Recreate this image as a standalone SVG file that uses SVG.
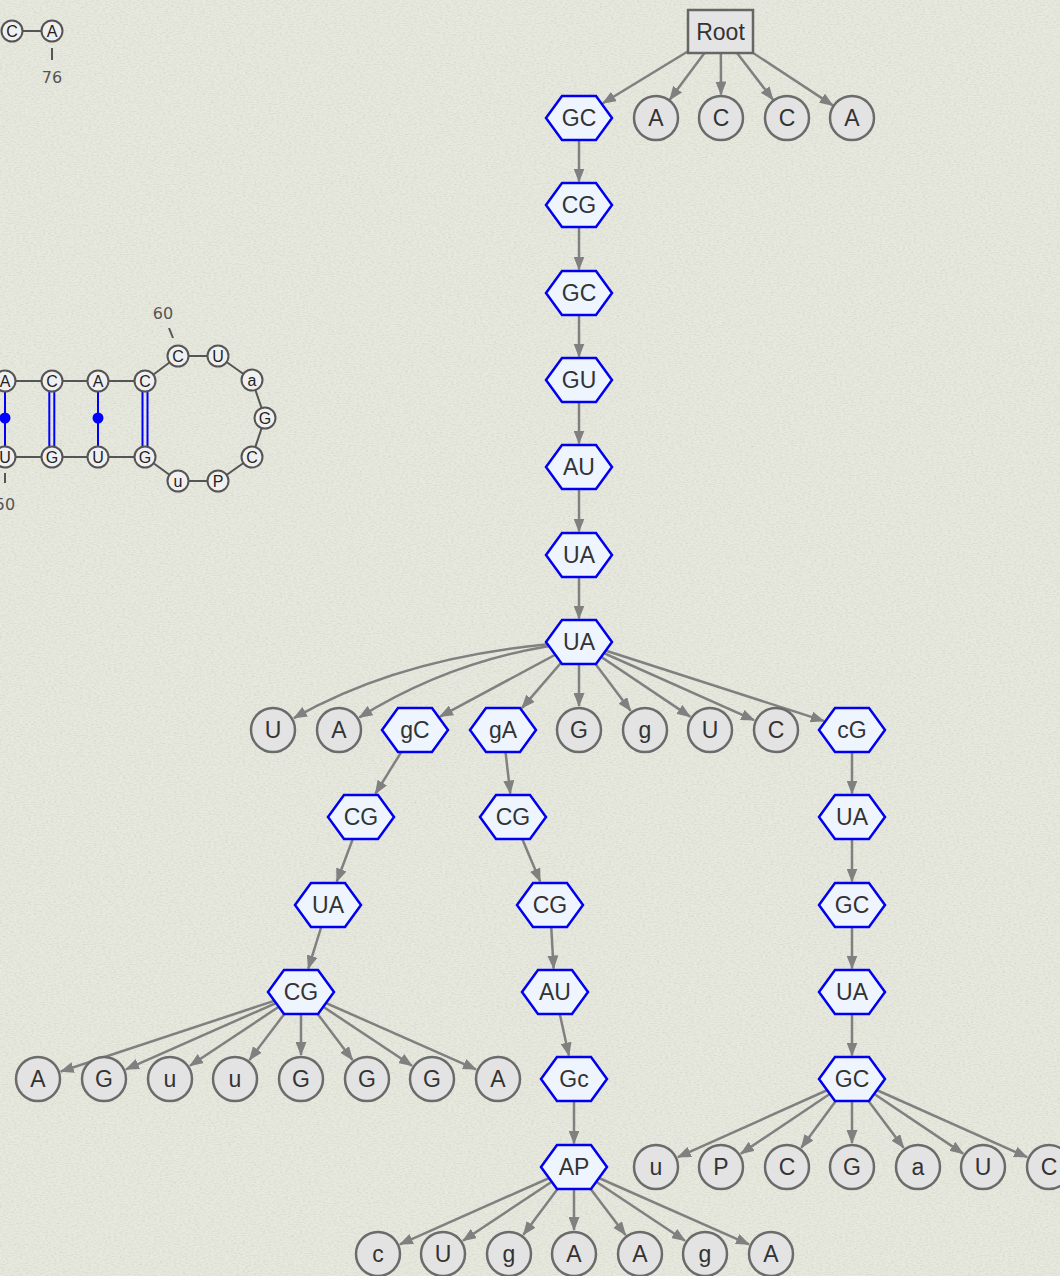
<svg xmlns="http://www.w3.org/2000/svg" xmlns:xlink="http://www.w3.org/1999/xlink" width="1060" height="1276" viewBox="0 0 1060 1276">
<style>
.bg{fill:#e8e9de}
.hx{fill:#eef5ff;stroke:#0000ee;stroke-width:2.5}
.lf{fill:#e3e3e3;stroke:#6b6b6b;stroke-width:2.5}
.rt{fill:#e4e4e4;stroke:#666;stroke-width:2.5}
.t{font-family:"Liberation Sans",Arial,sans-serif;font-size:23px;fill:#333;text-anchor:middle}
.e{fill:none;stroke:#808080;stroke-width:2.5;marker-end:url(#ah)}
.bb{stroke:#555;stroke-width:2;fill:none}
.nt{fill:#f0f0f0;stroke:#555;stroke-width:2}
.st{font-family:"Liberation Sans",Arial,sans-serif;font-size:16px;fill:#222;text-anchor:middle}
.num{font-family:"DejaVu Sans",sans-serif;font-size:16px;fill:#555;text-anchor:middle}
.bp{stroke:#0000ff;stroke-width:2;fill:none}
</style>
<defs>
<polygon id="hex" points="-33,0 -17,-22 17,-22 33,0 17,22 -17,22"/>
<marker id="ah" markerUnits="userSpaceOnUse" markerWidth="14" markerHeight="11" refX="13" refY="5.5" orient="auto">
<path d="M0,0 L14,5.5 L0,11 z" fill="#808080"/>
</marker>
<filter id="paper" x="0" y="0" width="100%" height="100%">
<feTurbulence type="fractalNoise" baseFrequency="0.35 0.9" numOctaves="3" seed="7"/>
<feColorMatrix type="matrix" values="0 0 0 0 0.45  0 0 0 0 0.47  0 0 0 0 0.40  0 0 0 0.6 -0.24"/>
</filter>
</defs>
<rect class="bg" x="0" y="0" width="1060" height="1276"/>
<rect x="0" y="0" width="1060" height="1276" filter="url(#paper)" fill="#000"/>

<g id="structure">
<g class="bb">
<line x1="12" y1="31" x2="52" y2="31"/>
<line x1="52" y1="48" x2="52" y2="60"/>
<line x1="5" y1="381" x2="145" y2="381"/>
<line x1="145" y1="381" x2="178" y2="356"/>
<line x1="178" y1="356" x2="218" y2="356"/>
<line x1="218" y1="356" x2="252" y2="380"/>
<line x1="252" y1="380" x2="265" y2="418"/>
<line x1="265" y1="418" x2="252" y2="457"/>
<line x1="252" y1="457" x2="218" y2="481"/>
<line x1="218" y1="481" x2="178" y2="481"/>
<line x1="178" y1="481" x2="145" y2="457"/>
<line x1="5" y1="457" x2="145" y2="457"/>
<line x1="5" y1="473" x2="5" y2="483"/>
<line x1="169" y1="328" x2="173" y2="338"/>
</g>
<g class="bp">
<line x1="5" y1="381" x2="5" y2="457"/>
<line x1="98" y1="381" x2="98" y2="457"/>
<line x1="49.3" y1="381" x2="49.3" y2="457"/>
<line x1="54.3" y1="381" x2="54.3" y2="457"/>
<line x1="142.5" y1="381" x2="142.5" y2="457"/>
<line x1="147.5" y1="381" x2="147.5" y2="457"/>
</g>
<circle cx="5" cy="418" r="5.5" fill="#0000ff"/>
<circle cx="98" cy="418" r="5.5" fill="#0000ff"/>
<g id="nt-c75"><circle class="nt" cx="12" cy="31" r="10.5"/><text class="st" x="12" y="37">C</text></g>
<g id="nt-a76"><circle class="nt" cx="52" cy="31" r="10.5"/><text class="st" x="52" y="37">A</text></g>
<g id="nt-a1"><circle class="nt" cx="5" cy="381" r="10.5"/><text class="st" x="5" y="387">A</text></g>
<g id="nt-c1"><circle class="nt" cx="52" cy="381" r="10.5"/><text class="st" x="52" y="387">C</text></g>
<g id="nt-a2"><circle class="nt" cx="98" cy="381" r="10.5"/><text class="st" x="98" y="387">A</text></g>
<g id="nt-c2"><circle class="nt" cx="145" cy="381" r="10.5"/><text class="st" x="145" y="387">C</text></g>
<g id="nt-c3"><circle class="nt" cx="178" cy="356" r="10.5"/><text class="st" x="178" y="362">C</text></g>
<g id="nt-u1"><circle class="nt" cx="218" cy="356" r="10.5"/><text class="st" x="218" y="362">U</text></g>
<g id="nt-a3"><circle class="nt" cx="252" cy="380" r="10.5"/><text class="st" x="252" y="386">a</text></g>
<g id="nt-g1"><circle class="nt" cx="265" cy="418" r="10.5"/><text class="st" x="265" y="424">G</text></g>
<g id="nt-c4"><circle class="nt" cx="252" cy="457" r="10.5"/><text class="st" x="252" y="463">C</text></g>
<g id="nt-p1"><circle class="nt" cx="218" cy="481" r="10.5"/><text class="st" x="218" y="487">P</text></g>
<g id="nt-u2"><circle class="nt" cx="178" cy="481" r="10.5"/><text class="st" x="178" y="487">u</text></g>
<g id="nt-g2"><circle class="nt" cx="145" cy="457" r="10.5"/><text class="st" x="145" y="463">G</text></g>
<g id="nt-u3"><circle class="nt" cx="98" cy="457" r="10.5"/><text class="st" x="98" y="463">U</text></g>
<g id="nt-g3"><circle class="nt" cx="52" cy="457" r="10.5"/><text class="st" x="52" y="463">G</text></g>
<g id="nt-u4"><circle class="nt" cx="5" cy="457" r="10.5"/><text class="st" x="5" y="463">U</text></g>
<text class="num" x="52" y="83">76</text>
<text class="num" x="163" y="319">60</text>
<text class="num" x="5" y="510">50</text>
</g>

<g id="connectors">
<line class="e" x1="720.5" y1="31.5" x2="602.8" y2="103.3"/>
<line class="e" x1="720.5" y1="31.5" x2="669.8" y2="99.6"/>
<line class="e" x1="720.8" y1="31.5" x2="721" y2="94.5"/>
<line class="e" x1="720.5" y1="31.5" x2="773" y2="99.8"/>
<line class="e" x1="720.5" y1="31.5" x2="832.8" y2="105.4"/>
<line class="e" x1="579" y1="118" x2="579" y2="181.5"/>
<line class="e" x1="579" y1="205" x2="579" y2="269.5"/>
<line class="e" x1="579" y1="293" x2="579" y2="356.5"/>
<line class="e" x1="579" y1="380" x2="579" y2="443.5"/>
<line class="e" x1="579" y1="467" x2="579" y2="531.5"/>
<line class="e" x1="579" y1="555" x2="579" y2="618.5"/>
<path class="e" d="M579,642 Q410,652 293.9,718.1"/>
<path class="e" d="M579,642 Q460,655 359.4,717.4"/>
<line class="e" x1="579" y1="642" x2="440" y2="716.6"/>
<line class="e" x1="579" y1="642" x2="521.9" y2="708.1"/>
<line class="e" x1="579" y1="642" x2="579" y2="706"/>
<line class="e" x1="579" y1="642" x2="630.6" y2="710.8"/>
<line class="e" x1="579" y1="642" x2="690.1" y2="716.6"/>
<line class="e" x1="579" y1="642" x2="754.1" y2="720.2"/>
<line class="e" x1="579" y1="642" x2="823.8" y2="720.9"/>
<line class="e" x1="415" y1="730" x2="375.4" y2="793.7"/>
<line class="e" x1="361" y1="817" x2="336.8" y2="881.6"/>
<line class="e" x1="328" y1="905" x2="308.3" y2="968.6"/>
<line class="e" x1="503" y1="730" x2="510.3" y2="793.5"/>
<line class="e" x1="513" y1="817" x2="540.2" y2="881.6"/>
<line class="e" x1="550" y1="905" x2="553.6" y2="968.5"/>
<line class="e" x1="555" y1="992" x2="568.9" y2="1055.6"/>
<line class="e" x1="574" y1="1079" x2="574" y2="1143.5"/>
<line class="e" x1="852" y1="730" x2="852" y2="793.5"/>
<line class="e" x1="852" y1="817" x2="852" y2="881.5"/>
<line class="e" x1="852" y1="905" x2="852" y2="968.5"/>
<line class="e" x1="852" y1="992" x2="852" y2="1055.5"/>
<line class="e" x1="301" y1="992" x2="60.8" y2="1071.5"/>
<line class="e" x1="301" y1="992" x2="126" y2="1069.3"/>
<line class="e" x1="301" y1="992" x2="190" y2="1065.7"/>
<line class="e" x1="301" y1="992" x2="249.5" y2="1059.9"/>
<line class="e" x1="301" y1="992" x2="301" y2="1055"/>
<line class="e" x1="301" y1="992" x2="352.5" y2="1059.9"/>
<line class="e" x1="301" y1="992" x2="412" y2="1065.7"/>
<line class="e" x1="301" y1="992" x2="476" y2="1069.3"/>
<line class="e" x1="574" y1="1167" x2="399.9" y2="1244.3"/>
<line class="e" x1="574" y1="1167" x2="463" y2="1240.7"/>
<line class="e" x1="574" y1="1167" x2="523.4" y2="1234.8"/>
<line class="e" x1="574" y1="1167" x2="574" y2="1230"/>
<line class="e" x1="574" y1="1167" x2="625.5" y2="1234.9"/>
<line class="e" x1="574" y1="1167" x2="685" y2="1240.7"/>
<line class="e" x1="574" y1="1167" x2="749" y2="1244.3"/>
<line class="e" x1="852" y1="1079" x2="677.9" y2="1157.2"/>
<line class="e" x1="852" y1="1079" x2="740.9" y2="1153.6"/>
<line class="e" x1="852" y1="1079" x2="801.3" y2="1147.7"/>
<line class="e" x1="852" y1="1079" x2="852" y2="1143"/>
<line class="e" x1="852" y1="1079" x2="903.6" y2="1147.8"/>
<line class="e" x1="852" y1="1079" x2="963.1" y2="1153.6"/>
<line class="e" x1="852" y1="1079" x2="1027.1" y2="1157.2"/>
</g>

<g id="n-root"><rect class="rt" x="688" y="10" width="65" height="43"/><text class="t" x="720.5" y="39.5">Root</text></g>

<g id="n-gc1"><use href="#hex" class="hx" x="579" y="118"/><text class="t" x="579" y="126">GC</text></g>
<g id="n-cg1"><use href="#hex" class="hx" x="579" y="205"/><text class="t" x="579" y="213">CG</text></g>
<g id="n-gc2"><use href="#hex" class="hx" x="579" y="293"/><text class="t" x="579" y="301">GC</text></g>
<g id="n-gu1"><use href="#hex" class="hx" x="579" y="380"/><text class="t" x="579" y="388">GU</text></g>
<g id="n-au1"><use href="#hex" class="hx" x="579" y="467"/><text class="t" x="579" y="475">AU</text></g>
<g id="n-ua1"><use href="#hex" class="hx" x="579" y="555"/><text class="t" x="579" y="563">UA</text></g>
<g id="n-ua2"><use href="#hex" class="hx" x="579" y="642"/><text class="t" x="579" y="650">UA</text></g>
<g id="n-gc3"><use href="#hex" class="hx" x="415" y="730"/><text class="t" x="415" y="738">gC</text></g>
<g id="n-ga1"><use href="#hex" class="hx" x="503" y="730"/><text class="t" x="503" y="738">gA</text></g>
<g id="n-cg2"><use href="#hex" class="hx" x="852" y="730"/><text class="t" x="852" y="738">cG</text></g>
<g id="n-cg3"><use href="#hex" class="hx" x="361" y="817"/><text class="t" x="361" y="825">CG</text></g>
<g id="n-cg4"><use href="#hex" class="hx" x="513" y="817"/><text class="t" x="513" y="825">CG</text></g>
<g id="n-ua3"><use href="#hex" class="hx" x="852" y="817"/><text class="t" x="852" y="825">UA</text></g>
<g id="n-ua4"><use href="#hex" class="hx" x="328" y="905"/><text class="t" x="328" y="913">UA</text></g>
<g id="n-cg5"><use href="#hex" class="hx" x="550" y="905"/><text class="t" x="550" y="913">CG</text></g>
<g id="n-gc4"><use href="#hex" class="hx" x="852" y="905"/><text class="t" x="852" y="913">GC</text></g>
<g id="n-cg6"><use href="#hex" class="hx" x="301" y="992"/><text class="t" x="301" y="1000">CG</text></g>
<g id="n-au2"><use href="#hex" class="hx" x="555" y="992"/><text class="t" x="555" y="1000">AU</text></g>
<g id="n-ua5"><use href="#hex" class="hx" x="852" y="992"/><text class="t" x="852" y="1000">UA</text></g>
<g id="n-gc5"><use href="#hex" class="hx" x="574" y="1079"/><text class="t" x="574" y="1087">Gc</text></g>
<g id="n-gc6"><use href="#hex" class="hx" x="852" y="1079"/><text class="t" x="852" y="1087">GC</text></g>
<g id="n-ap1"><use href="#hex" class="hx" x="574" y="1167"/><text class="t" x="574" y="1175">AP</text></g>

<g id="l-a1"><circle class="lf" cx="656" cy="118" r="22"/><text class="t" x="656" y="126">A</text></g>
<g id="l-c1"><circle class="lf" cx="721" cy="118" r="22"/><text class="t" x="721" y="126">C</text></g>
<g id="l-c2"><circle class="lf" cx="787" cy="118" r="22"/><text class="t" x="787" y="126">C</text></g>
<g id="l-a2"><circle class="lf" cx="852" cy="118" r="22"/><text class="t" x="852" y="126">A</text></g>

<g id="l-u1"><circle class="lf" cx="273" cy="730" r="22"/><text class="t" x="273" y="738">U</text></g>
<g id="l-a3"><circle class="lf" cx="339" cy="730" r="22"/><text class="t" x="339" y="738">A</text></g>
<g id="l-g1"><circle class="lf" cx="579" cy="730" r="22"/><text class="t" x="579" y="738">G</text></g>
<g id="l-g2"><circle class="lf" cx="645" cy="730" r="22"/><text class="t" x="645" y="738">g</text></g>
<g id="l-u2"><circle class="lf" cx="710" cy="730" r="22"/><text class="t" x="710" y="738">U</text></g>
<g id="l-c3"><circle class="lf" cx="776" cy="730" r="22"/><text class="t" x="776" y="738">C</text></g>

<g id="l-a4"><circle class="lf" cx="38" cy="1079" r="22"/><text class="t" x="38" y="1087">A</text></g>
<g id="l-g3"><circle class="lf" cx="104" cy="1079" r="22"/><text class="t" x="104" y="1087">G</text></g>
<g id="l-u3"><circle class="lf" cx="170" cy="1079" r="22"/><text class="t" x="170" y="1087">u</text></g>
<g id="l-u4"><circle class="lf" cx="235" cy="1079" r="22"/><text class="t" x="235" y="1087">u</text></g>
<g id="l-g4"><circle class="lf" cx="301" cy="1079" r="22"/><text class="t" x="301" y="1087">G</text></g>
<g id="l-g5"><circle class="lf" cx="367" cy="1079" r="22"/><text class="t" x="367" y="1087">G</text></g>
<g id="l-g6"><circle class="lf" cx="432" cy="1079" r="22"/><text class="t" x="432" y="1087">G</text></g>
<g id="l-a5"><circle class="lf" cx="498" cy="1079" r="22"/><text class="t" x="498" y="1087">A</text></g>

<g id="l-u5"><circle class="lf" cx="656" cy="1167" r="22"/><text class="t" x="656" y="1175">u</text></g>
<g id="l-p1"><circle class="lf" cx="721" cy="1167" r="22"/><text class="t" x="721" y="1175">P</text></g>
<g id="l-c4"><circle class="lf" cx="787" cy="1167" r="22"/><text class="t" x="787" y="1175">C</text></g>
<g id="l-g7"><circle class="lf" cx="852" cy="1167" r="22"/><text class="t" x="852" y="1175">G</text></g>
<g id="l-a6"><circle class="lf" cx="918" cy="1167" r="22"/><text class="t" x="918" y="1175">a</text></g>
<g id="l-u6"><circle class="lf" cx="983" cy="1167" r="22"/><text class="t" x="983" y="1175">U</text></g>
<g id="l-c5"><circle class="lf" cx="1049" cy="1167" r="22"/><text class="t" x="1049" y="1175">C</text></g>

<g id="l-c6"><circle class="lf" cx="378" cy="1254" r="22"/><text class="t" x="378" y="1262">c</text></g>
<g id="l-u7"><circle class="lf" cx="443" cy="1254" r="22"/><text class="t" x="443" y="1262">U</text></g>
<g id="l-g8"><circle class="lf" cx="509" cy="1254" r="22"/><text class="t" x="509" y="1262">g</text></g>
<g id="l-a7"><circle class="lf" cx="574" cy="1254" r="22"/><text class="t" x="574" y="1262">A</text></g>
<g id="l-a8"><circle class="lf" cx="640" cy="1254" r="22"/><text class="t" x="640" y="1262">A</text></g>
<g id="l-g9"><circle class="lf" cx="705" cy="1254" r="22"/><text class="t" x="705" y="1262">g</text></g>
<g id="l-a9"><circle class="lf" cx="771" cy="1254" r="22"/><text class="t" x="771" y="1262">A</text></g>
</svg>
